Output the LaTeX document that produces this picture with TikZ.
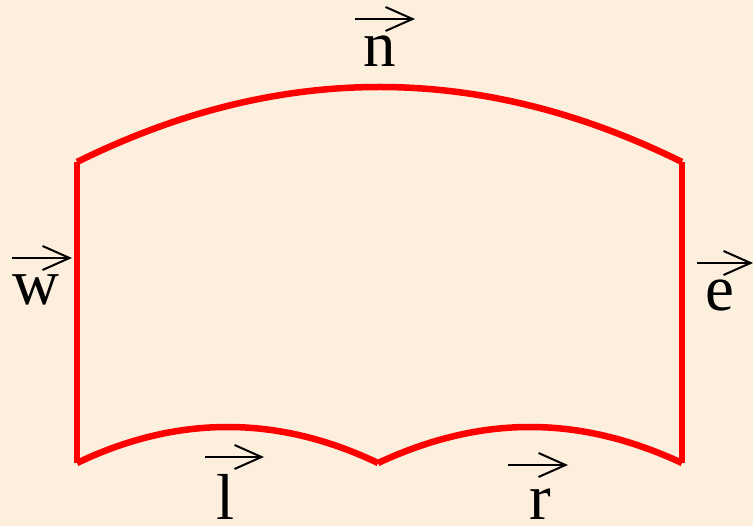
\documentclass[tikz,border=0pt]{standalone}
\usepackage{fontspec}
\setmainfont{Liberation Serif}
\usetikzlibrary{arrows.meta}
\definecolor{bgpeach}{HTML}{FDEFDE}
\definecolor{shapered}{HTML}{FF0000}
\tikzset{
  outline/.style={draw=shapered, line width=6.5pt, line cap=butt, line join=round},
  vecarrow/.style={draw=black, line width=2pt, -{Straight Barb[length=27pt,width=24pt,line width=2pt]}},
  lbl/.style={inner sep=0pt, anchor=base, font=\fontsize{65}{70}\selectfont}
}
\begin{document}
\begin{tikzpicture}[x=1pt,y=-1pt]
\fill[bgpeach] (0,0) rectangle (753,526);
\useasboundingbox (0,0) rectangle (753,526);
% corners
\coordinate (tl) at (77,162);
\coordinate (tr) at (682,162);
\coordinate (bl) at (77,463);
\coordinate (bm) at (378,463);
\coordinate (br) at (682,463);
% outline
\draw[outline] (tl) .. controls (279,62) and (480,62) .. (tr);
\draw[outline] (tr) -- (br);
\draw[outline] (br) .. controls (579,415) and (481,415) .. (bm);
\draw[outline] (bm) .. controls (278,415) and (177,415) .. (bl);
\draw[outline] (bl) -- (tl);
% labels
\node[lbl] (n) at (380,67) {n};
\node[lbl] (w) at (36,305) {w};
\node[lbl] (e) at (720,311) {e};
\node[lbl] (l) at (226,520) {l};
\node[lbl] (r) at (540,520) {r};
% vector arrows
\coordinate (na) at (355,19); \coordinate (nb) at (415,19);
\coordinate (wa) at (12,258); \coordinate (wb) at (72,258);
\coordinate (ea) at (697,263); \coordinate (eb) at (753,263);
\coordinate (la) at (205,457); \coordinate (lb) at (264,457);
\coordinate (ra) at (508,465); \coordinate (rb) at (568,465);
\draw[vecarrow] (na) -- (nb);
\draw[vecarrow] (wa) -- (wb);
\draw[vecarrow] (ea) -- (eb);
\draw[vecarrow] (la) -- (lb);
\draw[vecarrow] (ra) -- (rb);
\end{tikzpicture}
\end{document}
